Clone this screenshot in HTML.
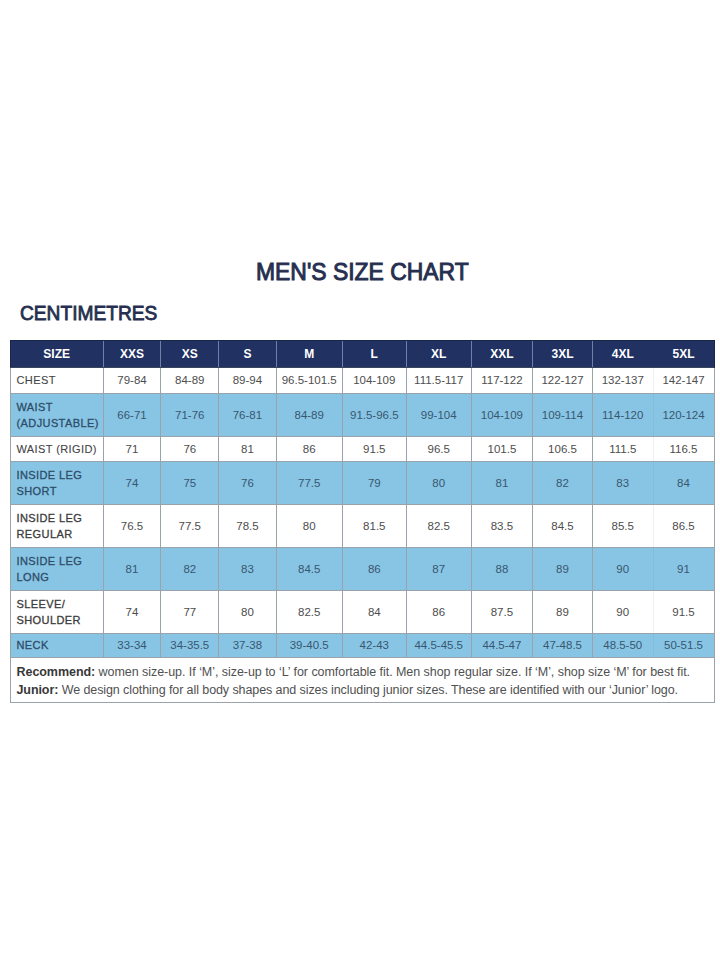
<!DOCTYPE html>
<html><head><meta charset="utf-8"><title>Men's Size Chart</title>
<style>
html,body{margin:0;padding:0;background:#fff;}
body{width:720px;height:960px;position:relative;overflow:hidden;font-family:"Liberation Sans",sans-serif;}
div{position:absolute;box-sizing:border-box;}
.hc,.lc,.vc{display:flex;align-items:center;}
.hc,.vc{justify-content:center;text-align:center;}
.hc span{color:#fff;font-weight:bold;font-size:12px;}
.lc{padding-left:6.5px;}
.lc span{font-size:11px;line-height:16px;letter-spacing:0.4px;-webkit-text-stroke:0.3px currentColor;}
.vc span{font-size:11.5px;}
.w span{color:#3c3c3c;}
.b span{color:#2d4d68;}
.vc.w span{color:#4d4d4d;}
.lc.thin span{-webkit-text-stroke:0.1px currentColor;color:#444;}
.vc.b span{color:#38576f;}
.vl{width:1px;background:#9aa3aa;}
.hl{height:1px;background:#9aa3aa;}
.title{left:256px;top:259px;font-weight:normal;-webkit-text-stroke:0.95px #262f4f;font-size:23.5px;letter-spacing:0px;transform:scaleX(0.975);transform-origin:0 0;color:#262f4f;white-space:nowrap;}
.sub{left:19.5px;top:300.6px;font-weight:normal;-webkit-text-stroke:0.85px #262f4f;font-size:20.8px;letter-spacing:0px;transform:scaleX(0.921);transform-origin:0 0;color:#262f4f;white-space:nowrap;}
.foot{left:16.5px;font-size:12.5px;color:#505050;white-space:nowrap;}
.foot b{color:#383838;}
</style></head><body>
<div class="title">MEN'S SIZE CHART</div>
<div class="sub">CENTIMETRES</div>
<div class="bg" style="left:10.0px;top:340.0px;width:704.0px;height:27.5px;background:#203162"></div><div class="hc" style="left:10.0px;top:340.0px;width:93.3px;height:27.5px;"><span>SIZE</span></div><div class="hc" style="left:103.3px;top:340.0px;width:57.4px;height:27.5px;"><span>XXS</span></div><div class="hc" style="left:160.7px;top:340.0px;width:58.2px;height:27.5px;"><span>XS</span></div><div class="hc" style="left:218.9px;top:340.0px;width:57.1px;height:27.5px;"><span>S</span></div><div class="hc" style="left:276.0px;top:340.0px;width:66.4px;height:27.5px;"><span>M</span></div><div class="hc" style="left:342.4px;top:340.0px;width:63.8px;height:27.5px;"><span>L</span></div><div class="hc" style="left:406.2px;top:340.0px;width:65.1px;height:27.5px;"><span>XL</span></div><div class="hc" style="left:471.3px;top:340.0px;width:61.2px;height:27.5px;"><span>XXL</span></div><div class="hc" style="left:532.5px;top:340.0px;width:60.0px;height:27.5px;"><span>3XL</span></div><div class="hc" style="left:592.5px;top:340.0px;width:60.5px;height:27.5px;"><span>4XL</span></div><div class="hc" style="left:653.0px;top:340.0px;width:61.0px;height:27.5px;"><span>5XL</span></div><div class="lc w thin" style="left:10.0px;top:367.5px;width:93.3px;height:25.5px;"><span>CHEST</span></div><div class="vc w" style="left:103.3px;top:367.5px;width:57.4px;height:25.5px;"><span>79-84</span></div><div class="vc w" style="left:160.7px;top:367.5px;width:58.2px;height:25.5px;"><span>84-89</span></div><div class="vc w" style="left:218.9px;top:367.5px;width:57.1px;height:25.5px;"><span>89-94</span></div><div class="vc w" style="left:276.0px;top:367.5px;width:66.4px;height:25.5px;"><span>96.5-101.5</span></div><div class="vc w" style="left:342.4px;top:367.5px;width:63.8px;height:25.5px;"><span>104-109</span></div><div class="vc w" style="left:406.2px;top:367.5px;width:65.1px;height:25.5px;"><span>111.5-117</span></div><div class="vc w" style="left:471.3px;top:367.5px;width:61.2px;height:25.5px;"><span>117-122</span></div><div class="vc w" style="left:532.5px;top:367.5px;width:60.0px;height:25.5px;"><span>122-127</span></div><div class="vc w" style="left:592.5px;top:367.5px;width:60.5px;height:25.5px;"><span>132-137</span></div><div class="vc w" style="left:653.0px;top:367.5px;width:61.0px;height:25.5px;"><span>142-147</span></div><div class="bg" style="left:10.0px;top:393.0px;width:704.0px;height:43.3px;background:#88c5e5"></div><div class="lc b" style="left:10.0px;top:393.0px;width:93.3px;height:43.3px;"><span>WAIST<br>(ADJUSTABLE)</span></div><div class="vc b" style="left:103.3px;top:393.0px;width:57.4px;height:43.3px;"><span>66-71</span></div><div class="vc b" style="left:160.7px;top:393.0px;width:58.2px;height:43.3px;"><span>71-76</span></div><div class="vc b" style="left:218.9px;top:393.0px;width:57.1px;height:43.3px;"><span>76-81</span></div><div class="vc b" style="left:276.0px;top:393.0px;width:66.4px;height:43.3px;"><span>84-89</span></div><div class="vc b" style="left:342.4px;top:393.0px;width:63.8px;height:43.3px;"><span>91.5-96.5</span></div><div class="vc b" style="left:406.2px;top:393.0px;width:65.1px;height:43.3px;"><span>99-104</span></div><div class="vc b" style="left:471.3px;top:393.0px;width:61.2px;height:43.3px;"><span>104-109</span></div><div class="vc b" style="left:532.5px;top:393.0px;width:60.0px;height:43.3px;"><span>109-114</span></div><div class="vc b" style="left:592.5px;top:393.0px;width:60.5px;height:43.3px;"><span>114-120</span></div><div class="vc b" style="left:653.0px;top:393.0px;width:61.0px;height:43.3px;"><span>120-124</span></div><div class="lc w thin" style="left:10.0px;top:436.3px;width:93.3px;height:25.4px;"><span>WAIST (RIGID)</span></div><div class="vc w" style="left:103.3px;top:436.3px;width:57.4px;height:25.4px;"><span>71</span></div><div class="vc w" style="left:160.7px;top:436.3px;width:58.2px;height:25.4px;"><span>76</span></div><div class="vc w" style="left:218.9px;top:436.3px;width:57.1px;height:25.4px;"><span>81</span></div><div class="vc w" style="left:276.0px;top:436.3px;width:66.4px;height:25.4px;"><span>86</span></div><div class="vc w" style="left:342.4px;top:436.3px;width:63.8px;height:25.4px;"><span>91.5</span></div><div class="vc w" style="left:406.2px;top:436.3px;width:65.1px;height:25.4px;"><span>96.5</span></div><div class="vc w" style="left:471.3px;top:436.3px;width:61.2px;height:25.4px;"><span>101.5</span></div><div class="vc w" style="left:532.5px;top:436.3px;width:60.0px;height:25.4px;"><span>106.5</span></div><div class="vc w" style="left:592.5px;top:436.3px;width:60.5px;height:25.4px;"><span>111.5</span></div><div class="vc w" style="left:653.0px;top:436.3px;width:61.0px;height:25.4px;"><span>116.5</span></div><div class="bg" style="left:10.0px;top:461.7px;width:704.0px;height:43.0px;background:#88c5e5"></div><div class="lc b" style="left:10.0px;top:461.7px;width:93.3px;height:43.0px;"><span>INSIDE LEG<br>SHORT</span></div><div class="vc b" style="left:103.3px;top:461.7px;width:57.4px;height:43.0px;"><span>74</span></div><div class="vc b" style="left:160.7px;top:461.7px;width:58.2px;height:43.0px;"><span>75</span></div><div class="vc b" style="left:218.9px;top:461.7px;width:57.1px;height:43.0px;"><span>76</span></div><div class="vc b" style="left:276.0px;top:461.7px;width:66.4px;height:43.0px;"><span>77.5</span></div><div class="vc b" style="left:342.4px;top:461.7px;width:63.8px;height:43.0px;"><span>79</span></div><div class="vc b" style="left:406.2px;top:461.7px;width:65.1px;height:43.0px;"><span>80</span></div><div class="vc b" style="left:471.3px;top:461.7px;width:61.2px;height:43.0px;"><span>81</span></div><div class="vc b" style="left:532.5px;top:461.7px;width:60.0px;height:43.0px;"><span>82</span></div><div class="vc b" style="left:592.5px;top:461.7px;width:60.5px;height:43.0px;"><span>83</span></div><div class="vc b" style="left:653.0px;top:461.7px;width:61.0px;height:43.0px;"><span>84</span></div><div class="lc w" style="left:10.0px;top:504.7px;width:93.3px;height:42.3px;"><span>INSIDE LEG<br>REGULAR</span></div><div class="vc w" style="left:103.3px;top:504.7px;width:57.4px;height:42.3px;"><span>76.5</span></div><div class="vc w" style="left:160.7px;top:504.7px;width:58.2px;height:42.3px;"><span>77.5</span></div><div class="vc w" style="left:218.9px;top:504.7px;width:57.1px;height:42.3px;"><span>78.5</span></div><div class="vc w" style="left:276.0px;top:504.7px;width:66.4px;height:42.3px;"><span>80</span></div><div class="vc w" style="left:342.4px;top:504.7px;width:63.8px;height:42.3px;"><span>81.5</span></div><div class="vc w" style="left:406.2px;top:504.7px;width:65.1px;height:42.3px;"><span>82.5</span></div><div class="vc w" style="left:471.3px;top:504.7px;width:61.2px;height:42.3px;"><span>83.5</span></div><div class="vc w" style="left:532.5px;top:504.7px;width:60.0px;height:42.3px;"><span>84.5</span></div><div class="vc w" style="left:592.5px;top:504.7px;width:60.5px;height:42.3px;"><span>85.5</span></div><div class="vc w" style="left:653.0px;top:504.7px;width:61.0px;height:42.3px;"><span>86.5</span></div><div class="bg" style="left:10.0px;top:547.0px;width:704.0px;height:43.5px;background:#88c5e5"></div><div class="lc b" style="left:10.0px;top:547.0px;width:93.3px;height:43.5px;"><span>INSIDE LEG<br>LONG</span></div><div class="vc b" style="left:103.3px;top:547.0px;width:57.4px;height:43.5px;"><span>81</span></div><div class="vc b" style="left:160.7px;top:547.0px;width:58.2px;height:43.5px;"><span>82</span></div><div class="vc b" style="left:218.9px;top:547.0px;width:57.1px;height:43.5px;"><span>83</span></div><div class="vc b" style="left:276.0px;top:547.0px;width:66.4px;height:43.5px;"><span>84.5</span></div><div class="vc b" style="left:342.4px;top:547.0px;width:63.8px;height:43.5px;"><span>86</span></div><div class="vc b" style="left:406.2px;top:547.0px;width:65.1px;height:43.5px;"><span>87</span></div><div class="vc b" style="left:471.3px;top:547.0px;width:61.2px;height:43.5px;"><span>88</span></div><div class="vc b" style="left:532.5px;top:547.0px;width:60.0px;height:43.5px;"><span>89</span></div><div class="vc b" style="left:592.5px;top:547.0px;width:60.5px;height:43.5px;"><span>90</span></div><div class="vc b" style="left:653.0px;top:547.0px;width:61.0px;height:43.5px;"><span>91</span></div><div class="lc w" style="left:10.0px;top:590.5px;width:93.3px;height:42.5px;"><span>SLEEVE/<br>SHOULDER</span></div><div class="vc w" style="left:103.3px;top:590.5px;width:57.4px;height:42.5px;"><span>74</span></div><div class="vc w" style="left:160.7px;top:590.5px;width:58.2px;height:42.5px;"><span>77</span></div><div class="vc w" style="left:218.9px;top:590.5px;width:57.1px;height:42.5px;"><span>80</span></div><div class="vc w" style="left:276.0px;top:590.5px;width:66.4px;height:42.5px;"><span>82.5</span></div><div class="vc w" style="left:342.4px;top:590.5px;width:63.8px;height:42.5px;"><span>84</span></div><div class="vc w" style="left:406.2px;top:590.5px;width:65.1px;height:42.5px;"><span>86</span></div><div class="vc w" style="left:471.3px;top:590.5px;width:61.2px;height:42.5px;"><span>87.5</span></div><div class="vc w" style="left:532.5px;top:590.5px;width:60.0px;height:42.5px;"><span>89</span></div><div class="vc w" style="left:592.5px;top:590.5px;width:60.5px;height:42.5px;"><span>90</span></div><div class="vc w" style="left:653.0px;top:590.5px;width:61.0px;height:42.5px;"><span>91.5</span></div><div class="bg" style="left:10.0px;top:633.0px;width:704.0px;height:24.4px;background:#88c5e5"></div><div class="lc b" style="left:10.0px;top:633.0px;width:93.3px;height:24.4px;"><span>NECK</span></div><div class="vc b" style="left:103.3px;top:633.0px;width:57.4px;height:24.4px;"><span>33-34</span></div><div class="vc b" style="left:160.7px;top:633.0px;width:58.2px;height:24.4px;"><span>34-35.5</span></div><div class="vc b" style="left:218.9px;top:633.0px;width:57.1px;height:24.4px;"><span>37-38</span></div><div class="vc b" style="left:276.0px;top:633.0px;width:66.4px;height:24.4px;"><span>39-40.5</span></div><div class="vc b" style="left:342.4px;top:633.0px;width:63.8px;height:24.4px;"><span>42-43</span></div><div class="vc b" style="left:406.2px;top:633.0px;width:65.1px;height:24.4px;"><span>44.5-45.5</span></div><div class="vc b" style="left:471.3px;top:633.0px;width:61.2px;height:24.4px;"><span>44.5-47</span></div><div class="vc b" style="left:532.5px;top:633.0px;width:60.0px;height:24.4px;"><span>47-48.5</span></div><div class="vc b" style="left:592.5px;top:633.0px;width:60.5px;height:24.4px;"><span>48.5-50</span></div><div class="vc b" style="left:653.0px;top:633.0px;width:61.0px;height:24.4px;"><span>50-51.5</span></div>
<div class="vl" style="left:9.5px;top:340.0px;height:27.5px;background:#1a2648"></div><div class="vl" style="left:9.5px;top:367.5px;height:335.2px;"></div><div class="vl" style="left:102.8px;top:340.0px;height:27.5px;background:#6f80a6"></div><div class="vl" style="left:102.8px;top:367.5px;height:289.9px;"></div><div class="vl" style="left:160.2px;top:340.0px;height:27.5px;background:#6f80a6"></div><div class="vl" style="left:160.2px;top:367.5px;height:289.9px;"></div><div class="vl" style="left:218.4px;top:340.0px;height:27.5px;background:#6f80a6"></div><div class="vl" style="left:218.4px;top:367.5px;height:289.9px;"></div><div class="vl" style="left:275.5px;top:340.0px;height:27.5px;background:#6f80a6"></div><div class="vl" style="left:275.5px;top:367.5px;height:289.9px;"></div><div class="vl" style="left:341.9px;top:340.0px;height:27.5px;background:#6f80a6"></div><div class="vl" style="left:341.9px;top:367.5px;height:289.9px;"></div><div class="vl" style="left:405.7px;top:340.0px;height:27.5px;background:#6f80a6"></div><div class="vl" style="left:405.7px;top:367.5px;height:289.9px;"></div><div class="vl" style="left:470.8px;top:340.0px;height:27.5px;background:#6f80a6"></div><div class="vl" style="left:470.8px;top:367.5px;height:289.9px;"></div><div class="vl" style="left:532.0px;top:340.0px;height:27.5px;background:#6f80a6"></div><div class="vl" style="left:532.0px;top:367.5px;height:289.9px;"></div><div class="vl" style="left:592.0px;top:340.0px;height:27.5px;background:#6f80a6"></div><div class="vl" style="left:592.0px;top:367.5px;height:289.9px;"></div><div class="vl" style="left:652.5px;top:367.5px;height:289.9px;background:rgba(110,130,150,0.12);"></div><div class="vl" style="left:713.5px;top:340.0px;height:27.5px;background:#1a2648"></div><div class="vl" style="left:713.5px;top:367.5px;height:335.2px;"></div><div class="hl" style="left:10.0px;top:339.5px;width:704.0px;background:#1a2648;"></div><div class="hl" style="left:10.0px;top:367.0px;width:704.0px;background:#3a4660;"></div><div class="hl" style="left:10.0px;top:392.5px;width:704.0px;"></div><div class="hl" style="left:10.0px;top:435.8px;width:704.0px;"></div><div class="hl" style="left:10.0px;top:461.2px;width:704.0px;"></div><div class="hl" style="left:10.0px;top:504.2px;width:704.0px;"></div><div class="hl" style="left:10.0px;top:546.5px;width:704.0px;"></div><div class="hl" style="left:10.0px;top:590.0px;width:704.0px;"></div><div class="hl" style="left:10.0px;top:632.5px;width:704.0px;"></div><div class="hl" style="left:10.0px;top:656.9px;width:704.0px;"></div><div class="hl" style="left:10.0px;top:702.2px;width:704.0px"></div>
<div class="foot" id="f1" style="top:664.5px;letter-spacing:-0.05px"><b>Recommend:</b> women size-up. If &#8216;M&#8217;, size-up to &#8216;L&#8217; for comfortable fit. Men shop regular size. If &#8216;M&#8217;, shop size &#8216;M&#8217; for best fit.</div>
<div class="foot" id="f2" style="top:683px;letter-spacing:-0.085px"><b>Junior:</b> We design clothing for all body shapes and sizes including junior sizes. These are identified with our &#8216;Junior&#8217; logo.</div>
</body></html>
